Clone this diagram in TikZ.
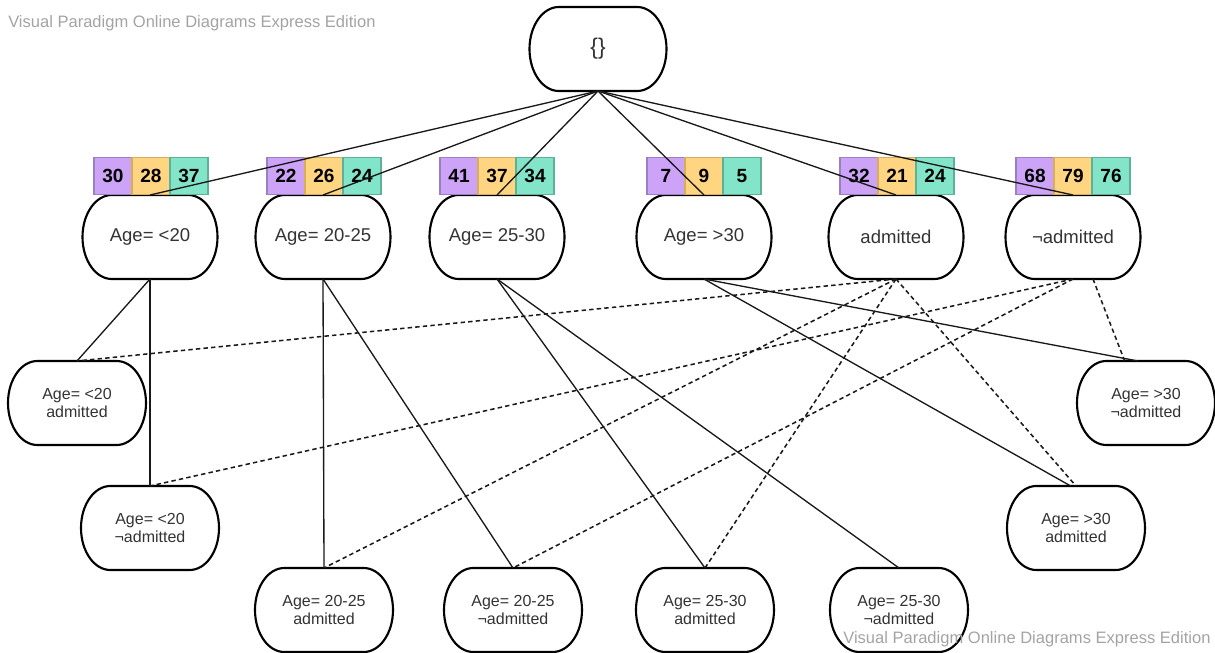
\documentclass[tikz,border=0pt]{standalone}
\usepackage{fontspec}
\setmainfont{Liberation Sans}
\definecolor{lbl}{HTML}{333333}
\definecolor{wm}{HTML}{A3A3A3}
\definecolor{pfill}{HTML}{CCA3F7}
\definecolor{pline}{HTML}{9B7FC0}
\definecolor{yfill}{HTML}{FFD581}
\definecolor{yline}{HTML}{D6AE5A}
\definecolor{gfill}{HTML}{82E5C9}
\definecolor{gline}{HTML}{5FB096}
\newcommand\cnt[5]{%
  \node[cbox,fill=pfill,draw=pline] (#1p) at (#2-38,176) {#3};
  \node[cbox,fill=yfill,draw=yline] (#1y) at (#2,176) {#4};
  \node[cbox,fill=gfill,draw=gline] (#1g) at (#2+38,176) {#5};}
\newcommand\pillof[1]{\draw[pill] ([xshift=22pt]#1.north west) -- ([xshift=-22pt]#1.north east)
  arc[start angle=90,end angle=-90,x radius=22pt,y radius=31.5pt] -- ([xshift=22pt]#1.south west)
  arc[start angle=270,end angle=90,x radius=22pt,y radius=31.5pt] -- cycle;}
\begin{document}
\begin{tikzpicture}[x=0.75pt,y=-0.75pt,
  stnode/.style={inner sep=0pt, outer sep=0pt, minimum height=63pt, text=lbl, align=center},
  lvone/.style={stnode, minimum width=101.25pt, font=\fontsize{13.9}{16}\selectfont},
  lvtwo/.style={stnode, minimum width=103.5pt, font=\fontsize{12}{13}\selectfont},
  pill/.style={draw=black, line width=1.6pt},
  cbox/.style={minimum width=28.5pt, minimum height=27.75pt, inner sep=0pt, line width=0.9pt, font=\fontsize{14.3}{16}\selectfont\bfseries},
  conn/.style={line width=1pt, draw=black!90},
  dconn/.style={conn, line width=1.15pt, dash pattern=on 3.3pt off 2.4pt},
  wmark/.style={anchor=base west, text=wm, inner sep=0pt, font=\fontsize{12.4}{14}\selectfont},
]
\useasboundingbox (0,0) rectangle (1215,653);
% nodes
\node[stnode, minimum width=102.75pt, font=\fontsize{17}{18}\selectfont] (top) at (598,49) {\{\}};
\node[lvone] (l1) at (150,237) {Age= <20};
\node[lvone] (l2) at (323,237) {Age= 20-25};
\node[lvone] (l3) at (497,237) {Age= 25-30};
\node[lvone] (l4) at (704,237) {Age= >30};
\node[lvone] (l5) at (896,237) {admitted};
\node[lvone] (l6) at (1073,237) {¬admitted};
\node[lvtwo] (a1) at (77,403) {Age= <20\\admitted};
\node[lvtwo] (a2) at (150,528) {Age= <20\\¬admitted};
\node[lvtwo] (a3) at (324,610) {Age= 20-25\\admitted};
\node[lvtwo] (a4) at (513,610) {Age= 20-25\\¬admitted};
\node[lvtwo] (a5) at (705,610) {Age= 25-30\\admitted};
\node[lvtwo] (a6) at (899,610) {Age= 25-30\\¬admitted};
\node[lvtwo] (a7) at (1076,528) {Age= >30\\admitted};
\node[lvtwo] (a8) at (1146,403) {Age= >30\\¬admitted};
\foreach \n in {top,l1,l2,l3,l4,l5,l6,a1,a2,a3,a4,a5,a6,a7,a8} {\pillof{\n}}
% count boxes
\cnt{b1}{151}{30}{28}{37}
\cnt{b2}{324}{22}{26}{24}
\cnt{b3}{497}{41}{37}{34}
\cnt{b4}{704}{7}{9}{5}
\cnt{b5}{897}{32}{21}{24}
\cnt{b6}{1073}{68}{79}{76}
% connectors from root
\foreach \n in {l1,l2,l3,l4,l5,l6} {\draw[conn] (top.south) -- (\n.north);}
% solid connectors
\draw[conn] (l1.south) -- (a1.north);
\draw[conn] (l1.south) -- (a2.north);
\draw[conn] (l2.south) -- (a3.north);
\draw[conn] (l2.south) -- (a4.north);
\draw[conn] (l3.south) -- (a5.north);
\draw[conn] (l3.south) -- (a6.north);
\draw[conn] (l4.south) -- ([xshift=-6pt]a8.north);
\draw[conn] (l4.south) -- ([xshift=-4pt]a7.north);
% dashed connectors
\draw[dconn] (l5.south) -- (a1.north);
\draw[dconn] (l5.south) -- (a3.north);
\draw[dconn] (l5.south) -- (a5.north);
\draw[dconn] (l5.south) -- (a7.north);
\draw[dconn] (l6.south) -- (a2.north);
\draw[dconn] (l6.south) -- (a4.north);
\draw[dconn] ([xshift=15pt]l6.south) -- ([xshift=-16pt]a8.north);
% watermarks
\node[wmark] (wm1) at (8,27) {Visual Paradigm Online Diagrams Express Edition};
\node[wmark] (wm2) at (843,643) {Visual Paradigm Online Diagrams Express Edition};
\end{tikzpicture}
\end{document}
